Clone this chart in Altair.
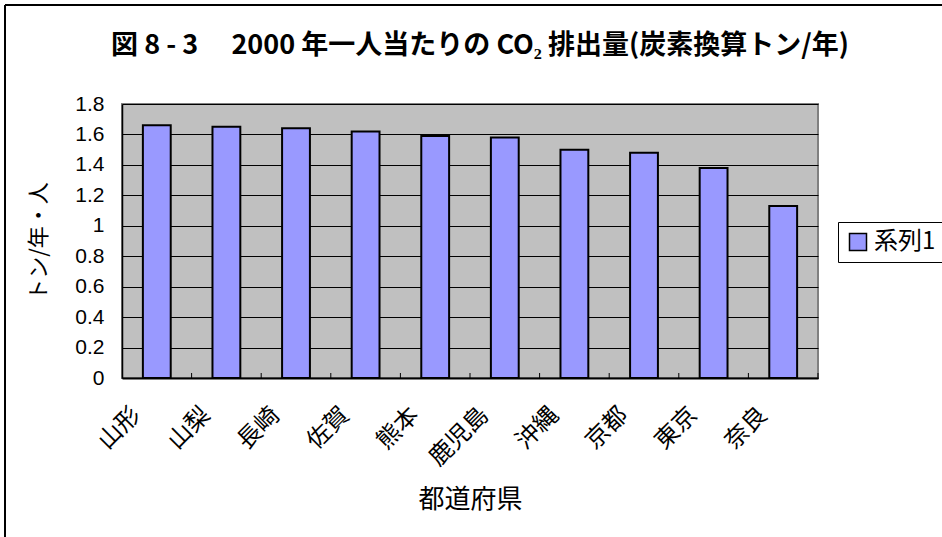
import altair as alt
import pandas as pd

# Per-capita CO2 emissions in 2000 by prefecture (carbon-equivalent tonnes / person / year)
prefectures = ["山形", "山梨", "長崎", "佐賀", "熊本", "鹿児島", "沖縄", "京都", "東京", "奈良"]
emissions = [1.66, 1.65, 1.64, 1.62, 1.59, 1.58, 1.50, 1.48, 1.38, 1.13]
series_name = "系列1"
y_ticks = [0, 0.2, 0.4, 0.6, 0.8, 1.0, 1.2, 1.4, 1.6, 1.8]

df = pd.DataFrame({"都道府県": prefectures, "値": emissions, "系列": series_name})

JP = "Noto Sans CJK JP"
NUM = "Liberation Sans"
W, H = 696, 274

x_enc = alt.X(
    "都道府県:N",
    sort=prefectures,
    scale=alt.Scale(paddingInner=0.6, paddingOuter=0.3),
    axis=alt.Axis(
        title="都道府県",
        titleFont=JP,
        titleFontSize=26,
        titleFontWeight="normal",
        titleColor="black",
        titlePadding=16,
        labelFont=JP,
        labelFontSize=24,
        labelColor="black",
        labelAngle=-45,
        labelAlign="right",
        labelBaseline="middle",
        labelPadding=33,
        labelOffset=-20,
        ticks=False,
        domainColor="black",
        domainWidth=2,
        grid=False,
    ),
)

bars = alt.Chart(df).mark_bar(stroke="black", strokeWidth=2).encode(
    x=x_enc,
    y=alt.Y(
        "値:Q",
        scale=alt.Scale(domain=[0, 1.8], nice=False),
        axis=alt.Axis(
            title="トン/年・人",
            titleFont=JP,
            titleFontSize=22,
            titleFontWeight="normal",
            titleColor="black",
            titlePadding=24,
            values=y_ticks,
            labelFont=NUM,
            labelFontSize=21,
            labelColor="black",
            labelPadding=18,
            labelExpr="format(datum.value, '~g')",
            ticks=False,
            domainColor="black",
            domainWidth=1.5,
            grid=True,
            gridColor="black",
            gridWidth=1,
            gridOpacity=1,
        ),
    ),
    color=alt.Color(
        "系列:N",
        scale=alt.Scale(range=["#9999FF"]),
        legend=alt.Legend(
            title=None,
            orient="none",
            legendX=716,
            legendY=118,
            symbolType="square",
            symbolSize=289,
            symbolStrokeColor="black",
            symbolStrokeWidth=1.5,
            labelFont=JP,
            labelFontSize=24,
            labelColor="black",
            strokeColor="black",
            padding=8,
        ),
    ),
)

# small category-boundary ticks along the category axis (on an unpadded band scale)
boundary_ticks = alt.Chart(df).mark_rule(color="black", strokeWidth=1).encode(
    x=alt.X(
        "都道府県:N",
        sort=prefectures,
        bandPosition=1,
        scale=alt.Scale(paddingInner=0, paddingOuter=0),
        axis=None,
    ),
    y=alt.value(H - 5),
    y2=alt.value(H),
)

# outer frame of the figure (top and left edges)
frame_top = alt.Chart(df).mark_rule(color="black", strokeWidth=1.5).encode(
    x=alt.value(-117), x2=alt.value(W + 130), y=alt.value(-99)
)
frame_left = alt.Chart(df).mark_rule(color="black", strokeWidth=1.5).encode(
    x=alt.value(-117), y=alt.value(-99), y2=alt.value(H + 170)
)

chart = (
    alt.layer(bars, boundary_ticks, frame_top, frame_left)
    .resolve_scale(x="independent")
    .properties(
        width=W,
        height=H,
        background="white",
        autosize=alt.AutoSizeParams(type="none"),
        padding={"left": 122, "top": 104, "right": 124, "bottom": 159},
        title=alt.Title(
            "図 8 - 3　 2000 年一人当たりの CO₂ 排出量(炭素換算トン/年)",
            font=JP,
            fontSize=27,
            fontWeight="bold",
            color="black",
            anchor="middle",
            offset=-56,
            dx=10,
        ),
    )
    .configure_view(fill="#C0C0C0", stroke="#808080", strokeWidth=2)
)

chart.save("out.html", embed_options={"renderer": "svg", "actions": False})
